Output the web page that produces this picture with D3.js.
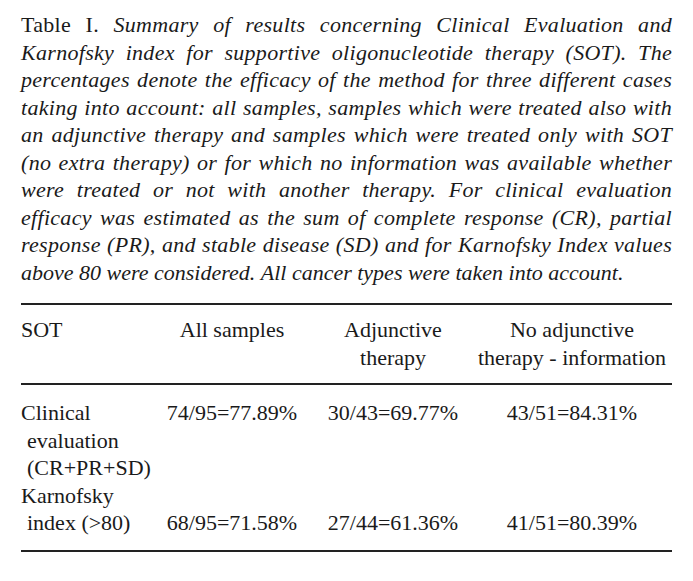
<!DOCTYPE html>
<html>
<head>
<meta charset="utf-8">
<script src="https://cdn.jsdelivr.net/npm/d3@7"></script>
<style>
  body { margin: 0; background: #fff; }
</style>
</head>
<body>
<svg id="chart" width="693" height="581"></svg>
<script>

// Caption
const captionLabel = 'Table I.'
const captionLines = [
    'Summary of results concerning Clinical Evaluation and',
    'Karnofsky index for supportive oligonucleotide therapy (SOT). The',
    'percentages denote the efficacy of the method for three different cases',
    'taking into account: all samples, samples which were treated also with',
    'an adjunctive therapy and samples which were treated only with SOT',
    '(no extra therapy) or for which no information was available whether',
    'were treated or not with another therapy. For clinical evaluation',
    'efficacy was estimated as the sum of complete response (CR), partial',
    'response (PR), and stable disease (SD) and for Karnofsky Index values',
    'above 80 were considered. All cancer types were taken into account.'
]

// Table content
const columnHeaders = [['SOT'], ['All samples'], ['Adjunctive', 'therapy'], ['No adjunctive', 'therapy - information']]
const rowLabels = [['Clinical', 'evaluation', '(CR+PR+SD)'], ['Karnofsky', 'index (>80)']]
const allSamples = ['74/95=77.89%', '68/95=71.58%']
const adjunctive = ['30/43=69.77%', '27/44=61.36%']
const noAdjunctive = ['43/51=84.31%', '41/51=80.39%']
const valueAlign = ['top', 'bottom']

// Layout
const left = 21
const right = 672
const lineHeight = 27.5
const serif = 'Liberation Serif'

const svg = d3.select('#chart')

// Shared text styling
function styleText(sel){
    return sel
        .attr('font-family', serif)
        .attr('font-size', 22)
        .attr('fill', '#1a1a1a')
}

// Column positions
const colX = d3.scaleOrdinal()
    .domain([0, 1, 2, 3])
    .range([left, 232, 393, 572])

// Caption, justified word by word (last line left ragged)
const captionY = d3.scaleLinear().domain([0, 1]).range([32, 32 + lineHeight])
const captionGroup = svg.append('g').classed('caption', true)

captionLines.forEach(function(line, i){
    const lastLine = i == captionLines.length - 1
    let words = line.split(' ').map(w => ({text: w, italic: true}))
    if (i == 0){
        words = captionLabel.split(' ').map(w => ({text: w, italic: false})).concat(words)
    }
    const nodes = captionGroup.selectAll('text.line-' + i)
        .data(words)
        .enter()
        .append('text')
        .classed('line-' + i, true)
        .call(styleText)
        .attr('y', captionY(i))
        .attr('font-style', d => d.italic ? 'italic' : 'normal')
        .attr('letter-spacing', lastLine ? 0 : 0.3)
        .text(d => d.text)

    const widths = nodes.nodes().map(n => n.getComputedTextLength())
    const total = d3.sum(widths)
    const gap = lastLine ? 5.5 : (right - left - total) / (words.length - 1)

    let x = left
    nodes.attr('x', function(_, j){
        const pos = x
        x += widths[j] + gap
        return pos
    })
})

// Rules
const rules = [304, 384, 551]
svg.selectAll('line.rule')
    .data(rules)
    .enter()
    .append('line')
    .classed('rule', true)
    .attr('x1', left)
    .attr('x2', right)
    .attr('y1', d => d)
    .attr('y2', d => d)
    .attr('stroke', '#222')
    .attr('stroke-width', 1.8)

// Header
const headerY = d3.scaleLinear().domain([0, 1]).range([337, 337 + lineHeight])
columnHeaders.forEach(function(lines, c){
    svg.selectAll('text.header-' + c)
        .data(lines)
        .enter()
        .append('text')
        .classed('header-' + c, true)
        .call(styleText)
        .attr('x', colX(c))
        .attr('y', (_, k) => headerY(k))
        .attr('text-anchor', c == 0 ? 'start' : 'middle')
        .text(d => d)
})

// Body
const bodyY = d3.scaleLinear().domain([0, 1]).range([420, 420 + lineHeight])
const columns = [allSamples, adjunctive, noAdjunctive]
let lineIndex = 0
rowLabels.forEach(function(lines, r){
    const start = lineIndex

    svg.selectAll('text.row-label-' + r)
        .data(lines)
        .enter()
        .append('text')
        .classed('row-label-' + r, true)
        .call(styleText)
        .attr('x', (_, k) => k == 0 ? colX(0) : colX(0) + 6)
        .attr('y', (_, k) => bodyY(start + k))
        .text(d => d)

    const valueLine = valueAlign[r] == 'top' ? start : start + lines.length - 1

    svg.selectAll('text.row-value-' + r)
        .data(columns.map(col => col[r]))
        .enter()
        .append('text')
        .classed('row-value-' + r, true)
        .call(styleText)
        .attr('x', (_, c) => colX(c + 1))
        .attr('y', bodyY(valueLine))
        .attr('text-anchor', 'middle')
        .text(d => d)

    lineIndex += lines.length
})

</script>
</body>
</html>
